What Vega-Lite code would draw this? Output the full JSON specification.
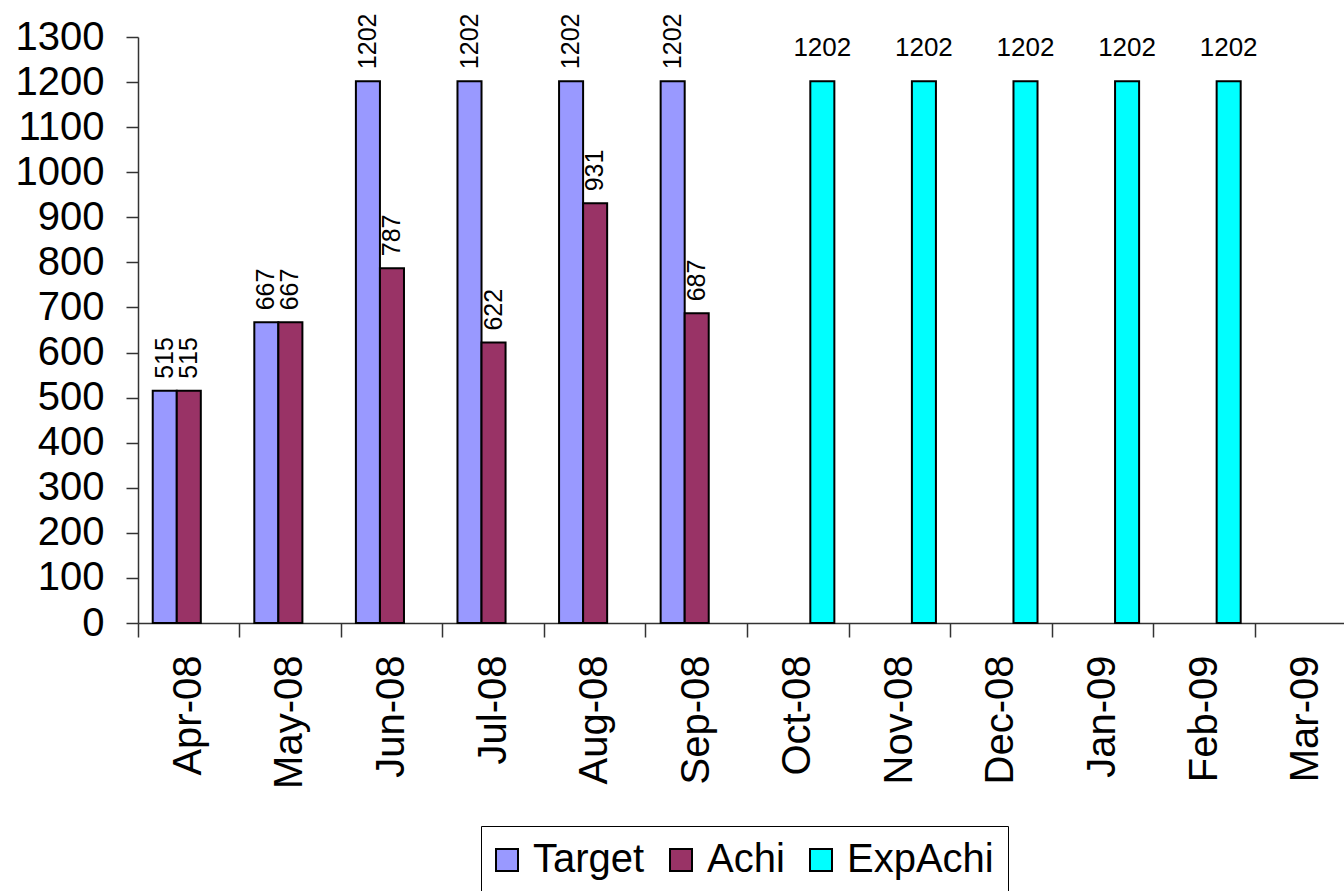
{
  "$schema": "https://vega.github.io/schema/vega-lite/v6.json",
  "autosize": {"type": "none"},
  "padding": {"left": 138, "top": 37, "right": 0, "bottom": 268},
  "width": 1206,
  "height": 586,
  "background": "white",
  "config": {
    "font": "Liberation Sans",
    "view": {"stroke": null},
    "axis": {"grid": false, "domainColor": "#333333", "tickColor": "#333333", "labelColor": "black", "labelFont": "Liberation Sans"}
  },
  "data": {
    "values": [
      {"month": "Apr-08", "series": "Target", "value": 515},
      {"month": "Apr-08", "series": "Achi", "value": 515},
      {"month": "May-08", "series": "Target", "value": 667},
      {"month": "May-08", "series": "Achi", "value": 667},
      {"month": "Jun-08", "series": "Target", "value": 1202},
      {"month": "Jun-08", "series": "Achi", "value": 787},
      {"month": "Jul-08", "series": "Target", "value": 1202},
      {"month": "Jul-08", "series": "Achi", "value": 622},
      {"month": "Aug-08", "series": "Target", "value": 1202},
      {"month": "Aug-08", "series": "Achi", "value": 931},
      {"month": "Sep-08", "series": "Target", "value": 1202},
      {"month": "Sep-08", "series": "Achi", "value": 687},
      {"month": "Oct-08", "series": "ExpAchi", "value": 1202},
      {"month": "Nov-08", "series": "ExpAchi", "value": 1202},
      {"month": "Dec-08", "series": "ExpAchi", "value": 1202},
      {"month": "Jan-09", "series": "ExpAchi", "value": 1202},
      {"month": "Feb-09", "series": "ExpAchi", "value": 1202}
    ]
  },
  "encoding": {
    "x": {
      "field": "month", "type": "nominal", "title": null,
      "scale": {
        "domain": ["Apr-08", "May-08", "Jun-08", "Jul-08", "Aug-08", "Sep-08", "Oct-08", "Nov-08", "Dec-08", "Jan-09", "Feb-09", "Mar-09"],
        "range": [0, 1219],
        "paddingInner": 0.29,
        "paddingOuter": 0.145
      },
      "axis": {
        "labelAngle": 270, "labelFontSize": 40, "labelPadding": 18,
        "tickSize": 14, "bandPosition": -0.204, "domainWidth": 1.5, "tickWidth": 1.5
      }
    },
    "xOffset": {
      "field": "series", "type": "nominal",
      "scale": {"domain": ["Target", "Achi", "ExpAchi"], "paddingInner": 0, "paddingOuter": 0}
    },
    "y": {
      "field": "value", "type": "quantitative", "title": null,
      "scale": {"domain": [0, 1300], "nice": false},
      "axis": {
        "values": [0, 100, 200, 300, 400, 500, 600, 700, 800, 900, 1000, 1100, 1200, 1300],
        "format": "d",
        "labelFontSize": 40, "labelPadding": 22, "tickSize": 12,
        "domainWidth": 1.5, "tickWidth": 1.5
      }
    }
  },
  "layer": [
    {
      "mark": {"type": "bar", "stroke": "black", "strokeWidth": 2},
      "encoding": {
        "color": {
          "field": "series", "type": "nominal",
          "scale": {"domain": ["Target", "Achi", "ExpAchi"], "range": ["#9999FF", "#993366", "#00FFFF"]},
          "legend": {
            "title": null, "orient": "none", "legendX": 343, "legendY": 789,
            "direction": "horizontal", "columns": 3,
            "labelFontSize": 40, "labelFont": "Liberation Sans", "labelColor": "black",
            "symbolType": "square", "symbolSize": 484,
            "symbolStrokeColor": "black", "symbolStrokeWidth": 2,
            "symbolOffset": -8,
            "labelOffset": 6, "columnPadding": 21, "padding": 14,
            "strokeColor": "black", "fillColor": "white"
          }
        }
      }
    },
    {
      "transform": [{"filter": "datum.series !== 'ExpAchi'"}],
      "mark": {"type": "text", "angle": 270, "align": "left", "baseline": "middle", "dx": 12, "fontSize": 25, "color": "black"},
      "encoding": {"text": {"field": "value", "type": "quantitative"}}
    },
    {
      "transform": [{"filter": "datum.series === 'ExpAchi'"}],
      "mark": {"type": "text", "align": "center", "baseline": "alphabetic", "dy": -25, "fontSize": 26, "color": "black"},
      "encoding": {"text": {"field": "value", "type": "quantitative"}}
    }
  ]
}
